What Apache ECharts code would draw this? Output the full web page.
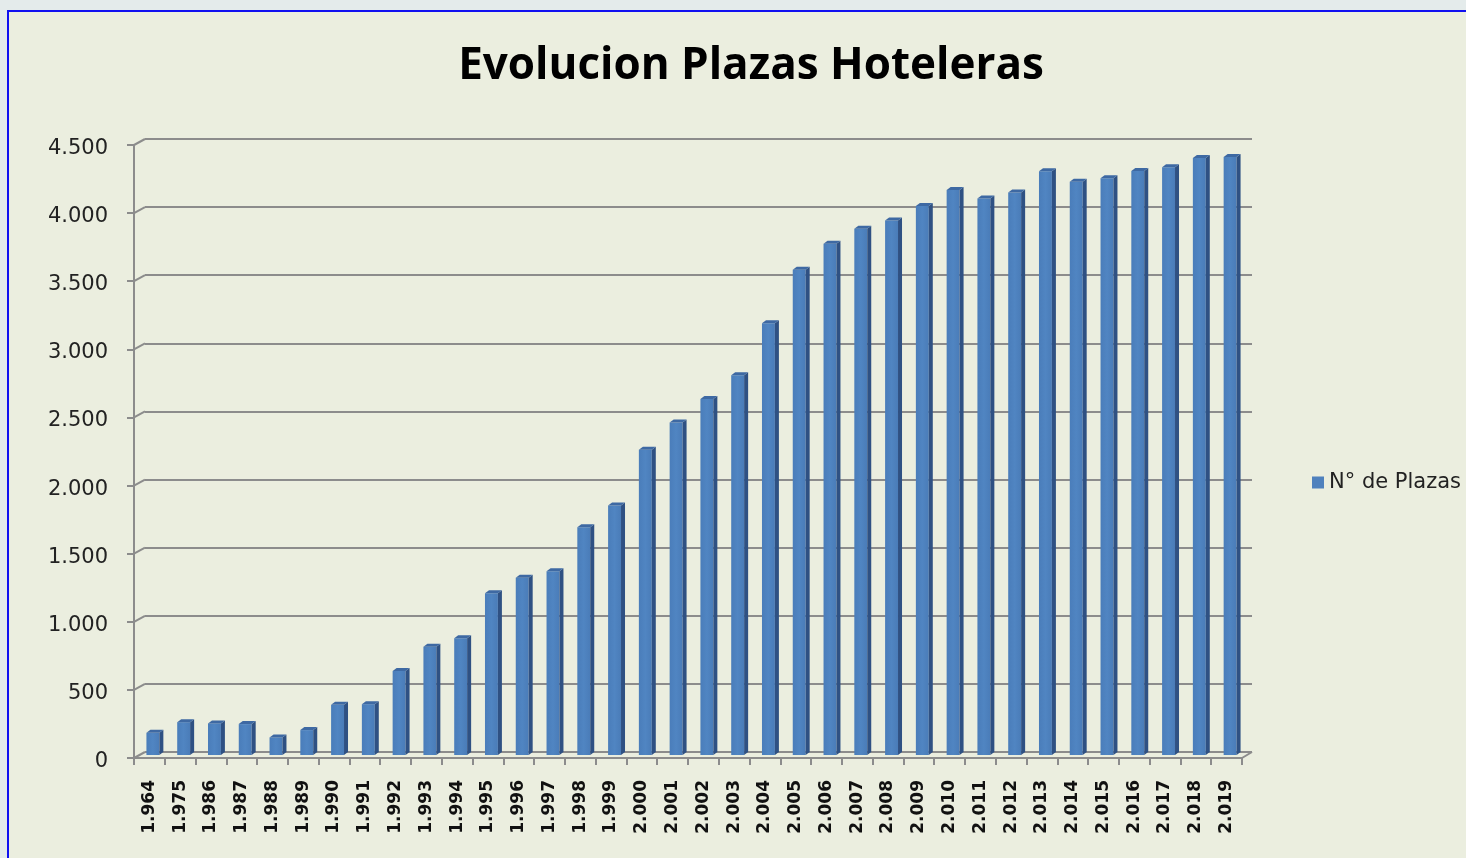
<!DOCTYPE html>
<html>
<head>
<meta charset="utf-8">
<script src="https://cdn.jsdelivr.net/npm/echarts@6/dist/echarts.min.js"></script>
<style>
  html, body { margin: 0; padding: 0; background: #e4ebeb; overflow: hidden; }
  #frame {
    position: absolute; left: 7px; top: 10px; width: 1500px; height: 900px;
    border: 2px solid #1010f0; background: #ebeedf;
  }
  #chart { position: absolute; left: 0; top: 0; width: 1466px; height: 858px; }
</style>
</head>
<body>
<div id="frame"></div>
<div id="chart"></div>
<script>
// categorias (años) y valores
const years = [
  '1.964', '1.975', '1.986', '1.987', '1.988', '1.989', '1.990', '1.991', '1.992',
  '1.993', '1.994', '1.995', '1.996', '1.997', '1.998', '1.999', '2.000', '2.001',
  '2.002', '2.003', '2.004', '2.005', '2.006', '2.007', '2.008', '2.009', '2.010',
  '2.011', '2.012', '2.013', '2.014', '2.015', '2.016', '2.017', '2.018', '2.019',
];
const plazas = [
  163, 241, 232, 227, 129, 183, 368, 373, 616,
  794, 857, 1188, 1301, 1349, 1671, 1832, 2240, 2440,
  2613, 2787, 3170, 3563, 3753, 3863, 3924, 4031, 4148,
  4085, 4129, 4285, 4209, 4234, 4288, 4314, 4383, 4390,
];
const yTicks = [0, 500, 1000, 1500, 2000, 2500, 3000, 3500, 4000, 4500];

const chart = echarts.init(document.getElementById('chart'));

const gridColor = '#8c8c8c';
const fmt = (v) => String(v).replace(/\B(?=(\d{3})+(?!\d))/g, '.');

const option = {
  animation: false,
  backgroundColor: 'transparent',
  title: {
    text: 'Evolucion Plazas Hoteleras',
    left: 746,
    textAlign: 'center',
    top: 39,
    textStyle: {
      fontFamily: 'Open Sans',
      fontWeight: 'bold',
      fontSize: 44,
      color: '#000',
    },
  },
  legend: {
    data: ['N° de Plazas'],
    left: 1312,
    top: 472,
    padding: 0,
    icon: 'rect',
    itemWidth: 12,
    itemHeight: 12,
    textStyle: {
      fontFamily: 'DejaVu Sans',
      fontSize: 21,
      color: '#222',
    },
  },
  grid: [
    // cara frontal (ejes y etiquetas)
    { left: 134, right: 224, top: 145, bottom: 100 },
    // pared del fondo (lineas de division)
    { left: 145, right: 214, top: 139, bottom: 106 },
  ],
  xAxis: [
    {
      type: 'category',
      gridIndex: 0,
      data: years,
      axisLine: { show: true, lineStyle: { color: gridColor, width: 2 } },
      axisTick: { show: true, length: 7, lineStyle: { color: gridColor, width: 2 } },
      axisLabel: {
        rotate: 90,
        margin: 22,
        interval: 0,
        fontFamily: 'DejaVu Sans',
        fontWeight: 'bold',
        fontSize: 17,
        color: '#111',
      },
      splitLine: { show: false },
    },
    {
      type: 'value',
      gridIndex: 1,
      min: 0,
      max: 1,
      show: false,
    },
  ],
  yAxis: [
    {
      type: 'value',
      gridIndex: 0,
      min: 0,
      max: 4500,
      interval: 500,
      axisLine: { show: true, lineStyle: { color: gridColor, width: 2 } },
      axisTick: { show: true, length: 7, lineStyle: { color: gridColor, width: 2 } },
      axisLabel: {
        margin: 26,
        fontFamily: 'DejaVu Sans',
        fontSize: 21,
        color: '#222',
        verticalAlign: 'top',
        lineHeight: 21,
        padding: [-7, 0, 0, 0],
        formatter: fmt,
      },
      splitLine: { show: false },
    },
    {
      type: 'value',
      gridIndex: 1,
      min: 0,
      max: 4500,
      interval: 500,
      axisLine: { show: false },
      axisTick: { show: false },
      axisLabel: { show: false },
      splitLine: { show: true, lineStyle: { color: gridColor, width: 2 } },
    },
  ],
  series: [
    {
      // pequeñas diagonales entre eje frontal y pared del fondo
      type: 'custom',
      xAxisIndex: 1,
      yAxisIndex: 1,
      silent: true,
      data: yTicks.map((v) => [0, v]),
      renderItem(params, api) {
        const p = api.coord([0, api.value(1)]);
        const children = [{
          type: 'line',
          shape: { x1: p[0] - 11, y1: p[1] + 6, x2: p[0], y2: p[1] },
          style: { stroke: gridColor, lineWidth: 2 },
        }];
        if (api.value(1) === 0) {
          const q = api.coord([1, 0]);
          children.push({
            type: 'line',
            shape: { x1: q[0] - 10, y1: q[1] + 6, x2: q[0], y2: q[1] },
            style: { stroke: gridColor, lineWidth: 2 },
          });
        }
        return { type: 'group', children };
      },
    },
    {
      name: 'N° de Plazas',
      type: 'custom',
      xAxisIndex: 0,
      yAxisIndex: 0,
      itemStyle: { color: '#4f81bd' },
      data: plazas.map((v, i) => [i, v]),
      encode: { x: 0, y: 1 },
      renderItem(params, api) {
        const base = api.coord([api.value(0), 0]);
        const top = api.coord([api.value(0), api.value(1)]);
        const w = api.size([1, 0])[0] * 0.42;
        const cx = base[0] + 3.5;
        const y0 = base[1] - 3;
        const yt = top[1] - 3;
        const d = 4;
        const dy = 3;
        const x0 = cx - w / 2;
        const x1 = cx + w / 2;
        return {
          type: 'group',
          children: [
            {
              type: 'rect',
              shape: { x: x0, y: yt, width: w, height: y0 - yt },
              style: {
                fill: new echarts.graphic.LinearGradient(0, 0, 1, 0, [
                  { offset: 0, color: '#4a7dba' },
                  { offset: 0.5, color: '#5085c2' },
                  { offset: 1, color: '#4a7cb8' },
                ]),
              },
            },
            {
              type: 'polygon',
              shape: { points: [[x1, yt], [x1 + d, yt - dy], [x1 + d, y0 - dy], [x1, y0]] },
              style: { fill: '#2f5183' },
            },
            {
              type: 'polygon',
              shape: { points: [[x0, yt], [x0 + d, yt - dy], [x1 + d, yt - dy], [x1, yt]] },
              style: { fill: '#3e69a3' },
            },
          ],
        };
      },
    },
  ],
};

chart.setOption(option);
</script>
</body>
</html>
